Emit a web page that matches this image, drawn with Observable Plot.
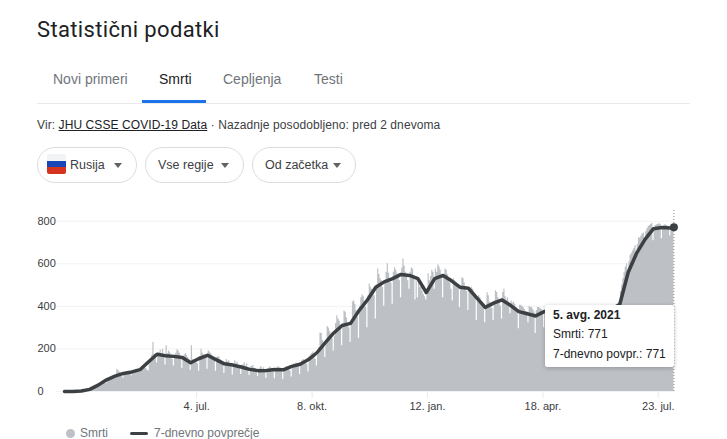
<!DOCTYPE html>
<html lang="sl">
<head>
<meta charset="utf-8">
<script src="https://cdn.jsdelivr.net/npm/d3@7"></script>
<script src="https://cdn.jsdelivr.net/npm/@observablehq/plot@0.6"></script>
<style>
html,body{margin:0;padding:0;background:#fff;overflow:hidden;width:727px;height:439px;}
body{position:relative;font-family:"Liberation Sans",Arial,sans-serif;color:#3c4043;}
.a{position:absolute;white-space:nowrap;}
#title{left:37px;top:15px;font:22px/30px Roboto,sans-serif;color:#202124;letter-spacing:.35px;}
.tab{top:70px;font-size:14px;line-height:18px;color:#70757a;}
.pill{top:147px;height:34px;border:1px solid #dadce0;border-radius:18px;box-sizing:content-box;}
.pill span{position:absolute;top:9px;font-size:12.5px;line-height:16px;color:#3c4043;}
.arrow{position:absolute;top:15px;width:0;height:0;border-left:4.5px solid transparent;border-right:4.5px solid transparent;border-top:5px solid #5f6368;}
#chart{left:0;top:200px;}
#tip{left:545px;top:305px;width:129px;height:62px;background:#fff;box-shadow:0 1px 4px rgba(60,64,67,.35);border-radius:2px;font-size:12px;color:#202124;}
#tip div{position:absolute;left:8px;}
.leg{top:426px;font-size:12px;line-height:14px;color:#70757a;}
</style>
</head>
<body>
<div id="title" class="a">Statistični podatki</div>
<div class="a tab" style="left:53px">Novi primeri</div>
<div class="a tab" style="left:159px;color:#202124">Smrti</div>
<div class="a tab" style="left:223px">Cepljenja</div>
<div class="a tab" style="left:314px">Testi</div>
<div class="a" style="left:37px;top:103px;width:653px;height:1px;background:#e8eaed"></div>
<div class="a" style="left:142px;top:100px;width:64px;height:3px;background:#1a73e8"></div>
<div class="a" style="left:37px;top:118px;font-size:12px;line-height:14px;color:#3c4043;letter-spacing:.09px">Vir: <span style="text-decoration:underline;color:#202124">JHU CSSE COVID-19 Data</span> · Nazadnje posodobljeno: pred 2 dnevoma</div>

<div class="a pill" style="left:37px;width:98px">
  <div style="position:absolute;left:9px;top:6px;width:19px;height:20px;border-radius:2px;background:linear-gradient(#f1f3f4 0 33%,#1a47b8 33% 66%,#d6331f 66%)"></div>
  <span style="left:32px">Rusija</span><div class="arrow" style="left:76px"></div>
</div>
<div class="a pill" style="left:145px;width:97px">
  <span style="left:12px">Vse regije</span><div class="arrow" style="left:75px"></div>
</div>
<div class="a pill" style="left:252px;width:102px">
  <span style="left:12px">Od začetka</span><div class="arrow" style="left:80px"></div>
</div>

<div id="chart" class="a"></div>

<div id="tip" class="a">
  <div style="top:3px;font-weight:bold;line-height:15px">5. avg. 2021</div>
  <div style="top:22px;line-height:15px">Smrti: 771</div>
  <div style="top:42px;line-height:15px">7-dnevno povpr.: 771</div>
</div>

<div class="a" style="left:66px;top:429px;width:9px;height:9px;border-radius:50%;background:#bdc1c6"></div>
<div class="a leg" style="left:80px">Smrti</div>
<div class="a" style="left:130px;top:432px;width:18px;height:3px;border-radius:2px;background:#3c4043"></div>
<div class="a leg" style="left:154px">7-dnevno povprečje</div>

<script>
// Daily deaths, one row per week (Monday first), starting 16 Mar 2020
const dailyDeathsByWeek = [
  [0,0,0,0,0,1,0],
  [0,1,1,0,1,1,1],
  [1,2,3,2,3,4,5],
  [6,8,9,10,12,14,16],
  [18,22,28,30,38,40,45],
  [36,50,58,60,62,65,68],
  [60,72,104,98,92,84,70],
  [62,78,88,92,95,90,84],
  [74,88,96,100,104,98,95],
  [90,98,104,110,116,108,100],
  [96,128,150,170,230,176,160],
  [134,168,182,194,176,198,172],
  [125,215,178,190,182,165,150],
  [120,170,180,196,190,180,160],
  [108,165,172,178,170,160,150],
  [100,215,150,140,150,135,130],
  [95,165,198,180,172,170,155],
  [105,190,185,178,170,160,150],
  [95,160,165,160,150,145,125],
  [85,135,150,140,145,130,125],
  [78,130,145,132,138,125,118],
  [80,125,125,135,120,130,110],
  [75,115,118,122,110,108,100],
  [70,105,110,118,105,112,95],
  [62,100,105,115,110,108,96],
  [60,100,105,118,112,108,98],
  [56,100,112,118,108,105,96],
  [68,118,130,125,135,128,118],
  [80,130,145,150,142,140,128],
  [92,165,172,178,185,175,150],
  [120,170,205,275,272,240,225],
  [160,220,305,298,282,268,250],
  [190,260,320,356,340,330,300],
  [215,300,378,372,345,318,300],
  [230,330,420,426,410,380,350],
  [250,400,440,455,445,420,395],
  [300,450,505,490,480,475,450],
  [340,500,576,550,530,520,490],
  [400,510,560,600,555,530,510],
  [410,560,581,570,555,540,520],
  [440,580,623,590,560,550,520],
  [480,560,580,575,540,430,520],
  [440,520,490,490,470,455,445],
  [430,460,553,520,540,570,560],
  [480,576,560,595,585,570,545],
  [440,540,576,570,550,520,510],
  [480,426,530,520,510,500,490],
  [393,490,534,530,510,490,470],
  [380,480,480,490,480,460,440],
  [333,440,450,440,420,410,400],
  [323,400,464,450,420,400,390],
  [333,425,473,465,440,420,400],
  [340,465,480,445,430,440,420],
  [365,425,415,420,410,395,385],
  [295,405,405,400,395,385,375],
  [375,323,400,395,395,385,375],
  [272,380,395,395,390,385,370],
  [300,375,395,395,400,395,385],
  [330,385,395,395,390,385,375],
  [325,380,390,392,388,380,372],
  [335,385,395,398,392,385,378],
  [330,388,396,398,392,384,376],
  [328,386,394,396,390,382,374],
  [322,378,388,390,386,378,370],
  [328,382,392,395,390,384,378],
  [350,385,395,400,400,400,405],
  [420,470,500,530,560,585,600],
  [560,610,640,650,660,670,685],
  [640,690,722,720,730,740,745],
  [700,750,765,775,780,785,790],
  [708,770,780,783,785,790,785],
  [717,760,780,785,780,778,775],
  [730,775,780,771]
];
// 7-day average, read once per week from the same start date; last entry is 5 Aug 2021
const weeklyAverage = [
  0,0.5,2,10,30,55,72,85,92,103,140,175,168,165,160,135,155,170,150,130,124,115,104,98,
  99,103,102,118,128,150,182,230,275,310,320,380,430,490,515,530,550,545,530,465,530,545,
  520,490,485,440,395,415,430,405,375,365,355,375,385,375,385,385,385,375,375,385,410,560,
  650,715,765,770,768,771
];
const yTicks = [0,200,400,600,800];
const xTickLabels = ["4. jul.","8. okt.","12. jan.","18. apr.","23. jul."];
const xTickDates = ["2020-07-04","2020-10-08","2021-01-12","2021-04-18","2021-07-23"].map(d => new Date(d));
const startDate = new Date("2020-03-16");
const endDate = new Date("2021-08-05");
const gridFrom = new Date("2020-03-09");
const gridTo = new Date("2021-08-06");

const daily = dailyDeathsByWeek.flat().map((v,i) => ({date: d3.utcDay.offset(startDate,i), value: v}));
const avg = weeklyAverage.map((v,i) => ({date: i === weeklyAverage.length-1 ? endDate : d3.utcDay.offset(startDate,i*7), value: v}));

const plot = Plot.plot({
  width: 727, height: 215,
  marginLeft: 64, marginRight: 53.6, marginTop: 20.7, marginBottom: 24,
  style: {fontFamily: '"Liberation Sans",Arial,sans-serif', fontSize: "11px", background: "transparent", overflow: "visible"},
  x: {type: "utc", domain: [startDate, endDate], label: null},
  y: {domain: [0,800], label: null},
  marks: [
    Plot.ruleY(yTicks, {x1: () => gridFrom, x2: () => gridTo, stroke: "#f1f3f4", strokeWidth: 1}),
    Plot.areaY(daily, {x: "date", y: "value", curve: "step", fill: "#bdc1c6"}),
    Plot.ruleX([endDate], {y1: 0, y2: 860, stroke: "#80868b", strokeDasharray: "1,2", strokeWidth: 1}),
    Plot.line(avg, {x: "date", y: "value", stroke: "#3c4043", strokeWidth: 3.5, strokeLinejoin: "round", strokeLinecap: "round"}),
    Plot.dot(avg.slice(-1), {x: "date", y: "value", r: 4, fill: "#3c4043"}),
    Plot.axisY(yTicks, {anchor: "left", tickSize: 0, tickPadding: 0, textAnchor: "start", dx: -27, label: null, fill: "#3c4043"}),
    Plot.axisX(xTickDates, {anchor: "bottom", tickSize: 7, tickPadding: 4, stroke: "#e8eaed", fill: "#3c4043", label: null,
      tickFormat: d => xTickLabels[xTickDates.findIndex(t => +t === +d)]})
  ]
});
document.getElementById("chart").appendChild(plot);
</script>
</body>
</html>
